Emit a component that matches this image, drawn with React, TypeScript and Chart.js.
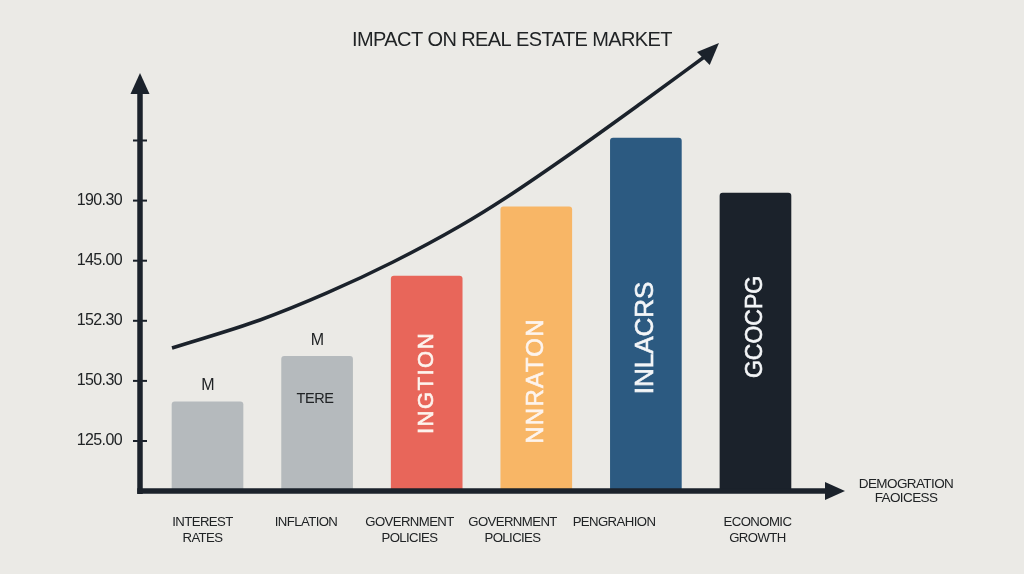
import React, { useEffect, useRef } from "react";
import { Chart, registerables } from "chart.js";

Chart.register(...registerables);

// ---------- data ----------
const TITLE = "IMPACT ON REAL ESTATE MARKET";
const CATEGORIES: string[][] = [
  ["INTEREST", "RATES"],
  ["INFLATION"],
  ["GOVERNMENT", "POLICIES"],
  ["GOVERNMENT", "POLICIES"],
  ["PENGRAHION"],
  ["ECONOMIC", "GROWTH"],
];
const CATEGORY_POS = [-0.046, 0.899, 1.843, 2.783, 3.709, 5.018];
const BAR_POS = [0, 1, 2, 3, 4, 5];
const BAR_VALUES = [0.65, 1.41, 2.745, 3.895, 5.04, 4.125];
const BAR_COLORS = ["#b5babd", "#b5babd", "#e8665a", "#f8b666", "#2c5a81", "#1b222b"];
const Y_TICK_VALUES = [0, 1, 2, 3, 4, 5];
const Y_TICK_LABELS = ["125.00", "150.30", "152.30", "145.00", "190.30", ""];
const CURVE_X = [-0.324, 0.479, 1.09, 1.693, 2.304, 2.733, 3.335, 3.946, 4.557];
const CURVE_Y = [1.547, 2.013, 2.463, 2.978, 3.577, 4.06, 4.809, 5.607, 6.423];
const CURVE_TIP = [4.667, 6.622];
const BAR_TOP_TEXT = ["M", "M", "", "", "", ""];
const BAR_INNER_TEXT = ["", "TERE", "INGTION", "NNRATON", "INLACRS", "GCOCPG"];
const BAR_INNER_Y = [0, 0.7, 0.965, 0.998, 1.714, 1.897];
const X_AXIS_TITLE = ["DEMOGRATION", "FAOICESS"];
const X_MIN = -0.616;
const X_MAX = 5.817;
const Y_MIN = -0.832;
const Y_MAX = 6.123;

// ---------- styles ----------
const BG = "#ebeae6";
const INK = "#1b222b";
const TEXT = "#202325";
const FONT = "'Liberation Sans', Arial, Helvetica, sans-serif";

const decor = {
  id: "decor",
  beforeDraw(chart: any) {
    const ctx = chart.ctx;
    ctx.save();
    ctx.fillStyle = BG;
    ctx.fillRect(0, 0, chart.width, chart.height);
    ctx.restore();
    ctx.letterSpacing = "-0.6px";
  },
  afterDatasetsDraw(chart: any) {
    const ctx = chart.ctx;
    const { left, right, top, bottom } = chart.chartArea;
    const xs = chart.scales.x;
    const ys = chart.scales.y;
    ctx.save();
    ctx.fillStyle = INK;
    ctx.strokeStyle = INK;
    ctx.lineCap = "butt";

    // y axis
    ctx.lineWidth = 5.5;
    ctx.beginPath();
    ctx.moveTo(left, bottom + 3);
    ctx.lineTo(left, top + 18);
    ctx.stroke();
    ctx.beginPath();
    ctx.moveTo(left, top);
    ctx.lineTo(left - 9.5, top + 21);
    ctx.lineTo(left + 9.5, top + 21);
    ctx.closePath();
    ctx.fill();

    // x axis
    ctx.beginPath();
    ctx.moveTo(left - 2.75, bottom);
    ctx.lineTo(right - 17, bottom);
    ctx.stroke();
    ctx.beginPath();
    ctx.moveTo(right, bottom);
    ctx.lineTo(right - 20, bottom - 9);
    ctx.lineTo(right - 20, bottom + 9);
    ctx.closePath();
    ctx.fill();

    // y tick marks
    ctx.lineWidth = 2;
    Y_TICK_VALUES.forEach((v) => {
      const y = ys.getPixelForValue(v);
      ctx.beginPath();
      ctx.moveTo(left - 7, y);
      ctx.lineTo(left + 7, y);
      ctx.stroke();
    });

    // curve arrowhead
    const lineMeta = chart.getDatasetMeta(1);
    const last = lineMeta.data[lineMeta.data.length - 1];
    const tx = xs.getPixelForValue(CURVE_TIP[0]);
    const ty = ys.getPixelForValue(CURVE_TIP[1]);
    let dx = tx - last.x;
    let dy = ty - last.y;
    const len = Math.hypot(dx, dy) || 1;
    dx /= len;
    dy /= len;
    const bx = tx - dx * 22;
    const by = ty - dy * 22;
    ctx.beginPath();
    ctx.moveTo(tx, ty);
    ctx.lineTo(bx - dy * 9, by + dx * 9);
    ctx.lineTo(bx + dy * 9, by - dx * 9);
    ctx.closePath();
    ctx.fill();

    // bar texts
    const barMeta = chart.getDatasetMeta(0);
    barMeta.data.forEach((el: any, i: number) => {
      if (BAR_TOP_TEXT[i]) {
        ctx.save();
        ctx.fillStyle = TEXT;
        ctx.font = `16px ${FONT}`;
        ctx.textAlign = "center";
        ctx.textBaseline = "middle";
        ctx.fillText(BAR_TOP_TEXT[i], el.x, el.y - 16);
        ctx.restore();
      }
      const t = BAR_INNER_TEXT[i];
      if (!t) return;
      const y = ys.getPixelForValue(BAR_INNER_Y[i]);
      ctx.save();
      ctx.textAlign = "center";
      ctx.textBaseline = "middle";
      if (i === 1) {
        ctx.fillStyle = TEXT;
        ctx.font = `14.5px ${FONT}`;
        ctx.letterSpacing = "-0.4px";
        ctx.fillText(t, el.x - 2, y);
      } else {
        const sizes = [0, 0, 22, 24, 26, 23];
        const spacing = [0, 0, 1.5, 1.3, 0, 0];
        ctx.fillStyle = i >= 4 ? "#f4f6f8" : "#fdf4ee";
        ctx.font = `${sizes[i]}px ${FONT}`;
        ctx.letterSpacing = `${spacing[i]}px`;
        ctx.translate(el.x, y);
        ctx.rotate(-Math.PI / 2);
        ctx.fillText(t, 0, 0);
        ctx.lineWidth = 0.6;
        ctx.strokeStyle = ctx.fillStyle;
        ctx.strokeText(t, 0, 0);
      }
      ctx.restore();
    });

    // right-side axis caption
    ctx.fillStyle = TEXT;
    ctx.font = `13.5px ${FONT}`;
    ctx.textAlign = "center";
    ctx.textBaseline = "middle";
    ctx.fillText(X_AXIS_TITLE[0], right + 61, bottom - 7);
    ctx.fillText(X_AXIS_TITLE[1], right + 61, bottom + 7);
    ctx.restore();
  },
};

export default function App() {
  const ref = useRef<HTMLCanvasElement>(null);
  useEffect(() => {
    document.body.style.margin = "0";
    document.body.style.background = BG;
    Chart.defaults.font.family = FONT;
    const chart = new Chart(ref.current as HTMLCanvasElement, {
      type: "bar",
      data: {
        datasets: [
          {
            type: "bar",
            data: BAR_POS.map((x, i) => ({ x, y: BAR_VALUES[i] })),
            backgroundColor: BAR_COLORS,
            barThickness: 71,
            borderRadius: { topLeft: 3, topRight: 3, bottomLeft: 0, bottomRight: 0 },
            borderSkipped: false,
            base: Y_MIN,
            order: 2,
          } as any,
          {
            type: "line",
            data: CURVE_X.map((x, i) => ({ x, y: CURVE_Y[i] })),
            borderColor: INK,
            borderWidth: 3.5,
            pointRadius: 0,
            cubicInterpolationMode: "monotone",
            fill: false,
            clip: false,
            order: 1,
          } as any,
        ],
      },
      options: {
        responsive: false,
        animation: false,
        events: [],
        layout: { padding: 0 },
        plugins: {
          legend: { display: false },
          tooltip: { enabled: false },
          title: {
            display: true,
            text: TITLE,
            color: TEXT,
            font: { size: 20, weight: "normal", lineHeight: 1.2 },
            padding: { top: 28, bottom: 21 },
          },
        },
        scales: {
          x: {
            type: "linear",
            min: X_MIN,
            max: X_MAX,
            offset: false,
            grid: { display: false, drawTicks: false },
            border: { display: false },
            afterBuildTicks: (axis: any) => {
              axis.ticks = CATEGORY_POS.map((v) => ({ value: v }));
            },
            afterFit: (axis: any) => {
              axis.height = 83;
            },
            ticks: {
              autoSkip: false,
              maxRotation: 0,
              minRotation: 0,
              padding: 23,
              color: TEXT,
              font: { size: 13.2, lineHeight: 1.22 },
              callback: (_v: any, i: number) => CATEGORIES[i],
            },
          },
          y: {
            type: "linear",
            min: Y_MIN,
            max: Y_MAX,
            grid: { display: false, drawTicks: false },
            border: { display: false },
            afterBuildTicks: (axis: any) => {
              axis.ticks = Y_TICK_VALUES.map((v) => ({ value: v }));
            },
            afterFit: (axis: any) => {
              axis.width = 140;
            },
            ticks: {
              autoSkip: false,
              padding: 18,
              color: TEXT,
              font: { size: 16 },
              callback: (_v: any, i: number) => Y_TICK_LABELS[i],
            },
          },
          yRight: {
            type: "linear",
            position: "right",
            min: Y_MIN,
            max: Y_MAX,
            grid: { display: false, drawTicks: false },
            border: { display: false },
            ticks: { display: false },
            afterFit: (axis: any) => {
              axis.width = 179;
            },
          },
        },
      } as any,
      plugins: [decor],
    });
    return () => chart.destroy();
  }, []);
  return (
    <div style={{ position: "absolute", left: 0, top: 0, width: 1024, height: 574 }}>
      <canvas ref={ref} width={1024} height={574} style={{ display: "block", width: 1024, height: 574 }} />
    </div>
  );
}
